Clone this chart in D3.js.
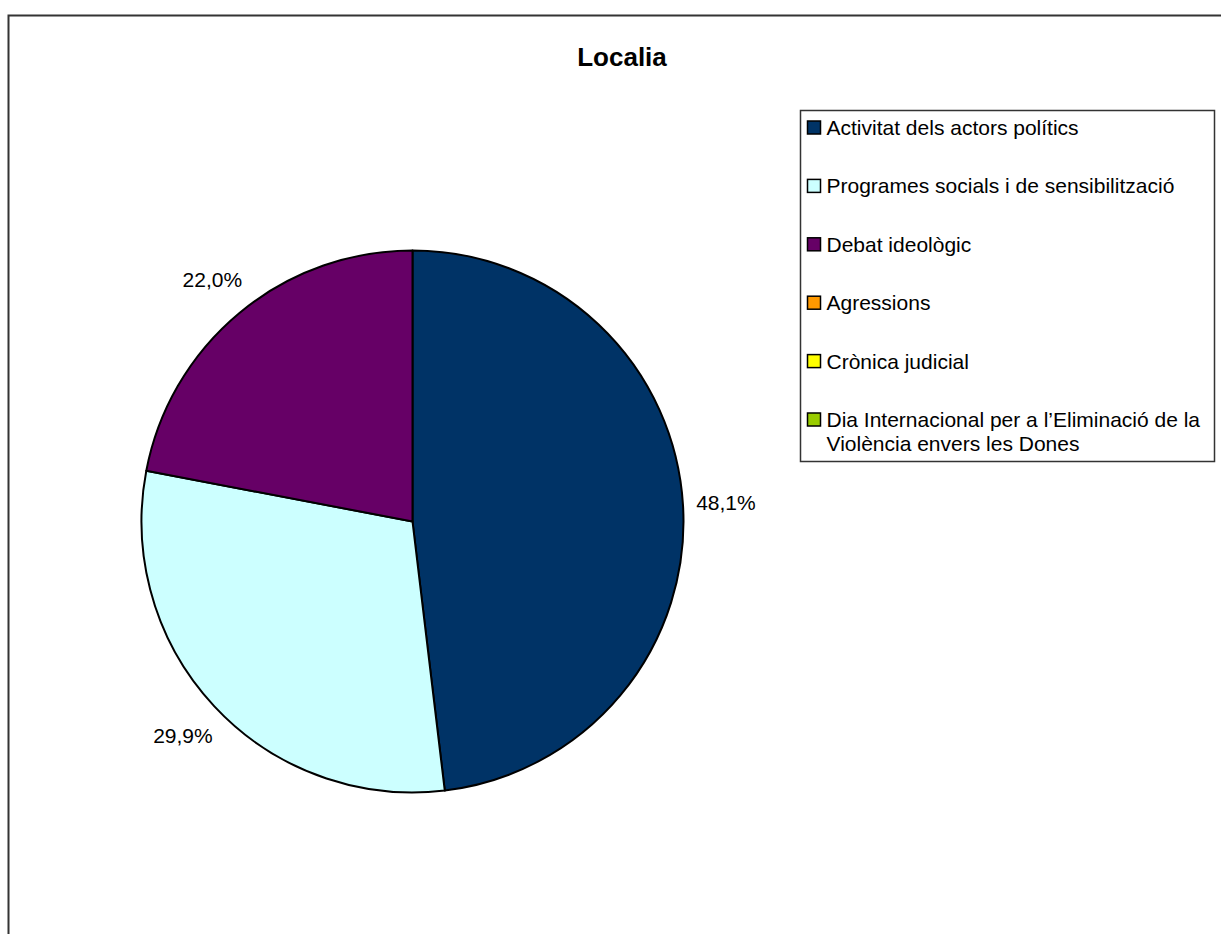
<!DOCTYPE html>
<meta charset="utf-8">
<title>Localia</title>
<script src="https://d3js.org/d3.v7.min.js"></script>
<style>
	body {
		margin: 0;
		background: #fff;
		font-family: Arial, "Liberation Sans", sans-serif;
	}
	text {
		fill: #000;
	}
</style>
<div id="chart"></div>
<script>

var title = "Localia";

var categories = [
	"Activitat dels actors polítics",
	"Programes socials i de sensibilització",
	"Debat ideològic",
	"Agressions",
	"Crònica judicial",
	"Dia Internacional per a l’Eliminació de la Violència envers les Dones"
];

var values = [48.1, 29.9, 22.0, 0, 0, 0];

var colors = ["#003366", "#CCFFFF", "#660066", "#FF9900", "#FFFF00", "#99CC00"];

var width = 1221, height = 934;
var cx = 412.5, cy = 521.5, radius = 271;

var svg = d3.select("#chart").append("svg")
	.attr("width", width)
	.attr("height", height);

// chart frame, runs off the right and bottom edge
svg.append("rect")
	.attr("x", 8.5)
	.attr("y", 15.5)
	.attr("width", width)
	.attr("height", height)
	.attr("fill", "none")
	.attr("stroke", "#333")
	.attr("stroke-width", 2);

svg.append("text")
	.attr("x", 622)
	.attr("y", 66)
	.attr("text-anchor", "middle")
	.style("font-size", "26px")
	.style("font-weight", "bold")
	.text(title);

var data = categories.map(function(c, i) {
	return {name: c, value: values[i], color: colors[i]};
});

var pie = d3.pie()
	.sort(null)
	.value(function(d) { return d.value; });

var arc = d3.arc()
	.innerRadius(0)
	.outerRadius(radius);

var labelArc = d3.arc()
	.innerRadius(314)
	.outerRadius(314);

var arcs = pie(data).filter(function(d) { return d.data.value > 0; });

var g = svg.append("g")
	.attr("transform", "translate(" + cx + "," + cy + ")");

g.selectAll(".slice")
	.data(arcs)
	.enter().append("path")
	.attr("class", "slice")
	.attr("d", arc)
	.attr("fill", function(d) { return d.data.color; })
	.attr("stroke", "#000")
	.attr("stroke-width", 2)
	.attr("stroke-linejoin", "round");

var fmt = function(v) { return v.toFixed(1).replace(".", ",") + "%"; };

g.selectAll(".label")
	.data(arcs)
	.enter().append("text")
	.attr("class", "label")
	.attr("transform", function(d) { return "translate(" + labelArc.centroid(d) + ")"; })
	.attr("text-anchor", "middle")
	.attr("dy", "0.35em")
	.style("font-size", "21px")
	.text(function(d) { return fmt(d.data.value); });

// legend
var lx = 800.5, ly = 110.5, lw = 414, lh = 351;
var legend = svg.append("g");

legend.append("rect")
	.attr("x", lx)
	.attr("y", ly)
	.attr("width", lw)
	.attr("height", lh)
	.attr("fill", "#fff")
	.attr("stroke", "#333")
	.attr("stroke-width", 1.5);

var step = 58.4;
var items = legend.selectAll(".item")
	.data(data)
	.enter().append("g")
	.attr("class", "item")
	.attr("transform", function(d, i) { return "translate(" + (lx + 7) + "," + (ly + 17 + i * step) + ")"; });

items.append("rect")
	.attr("x", 0)
	.attr("y", -6.5)
	.attr("width", 13)
	.attr("height", 13)
	.attr("fill", function(d) { return d.color; })
	.attr("stroke", "#000")
	.attr("stroke-width", 1.5);

items.append("text")
	.attr("x", 19)
	.attr("y", 7.5)
	.style("font-size", "21px")
	.each(function(d) {
		// simple word wrap inside the legend box
		var t = d3.select(this);
		var words = d.name.split(" ");
		var line = [];
		var tspan = t.append("tspan").attr("x", 19);
		var n = 0;
		words.forEach(function(w) {
			line.push(w);
			tspan.text(line.join(" "));
			if (tspan.node().getComputedTextLength() > lw - 32 && line.length > 1) {
				line.pop();
				tspan.text(line.join(" "));
				line = [w];
				n++;
				tspan = t.append("tspan").attr("x", 19).attr("dy", 24).text(w);
			}
		});
	});

</script>
